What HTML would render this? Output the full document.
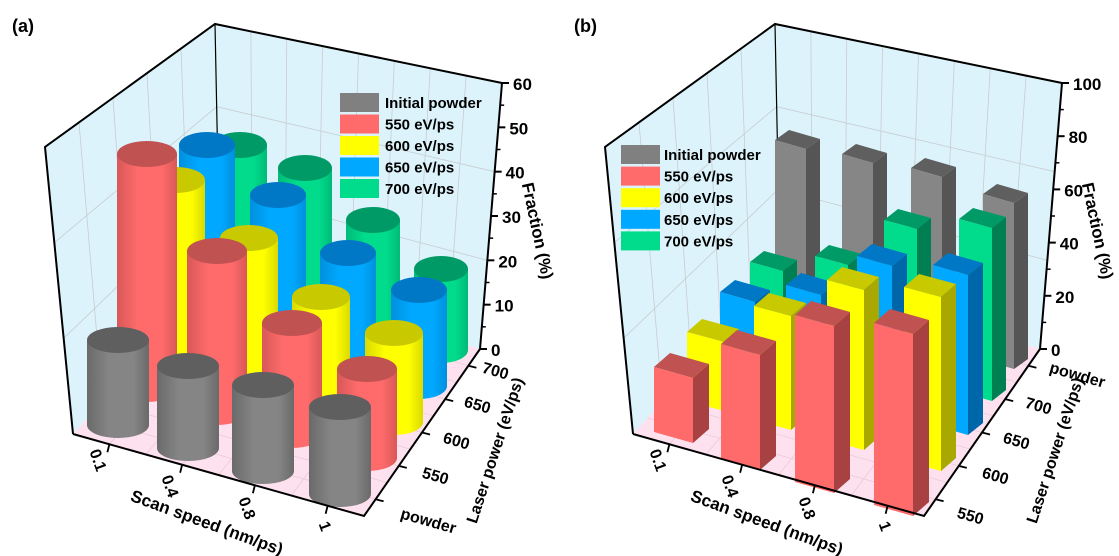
<!DOCTYPE html>
<html><head><meta charset="utf-8"><style>
html,body{margin:0;padding:0;background:#fff;}
svg{display:block;font-family:"Liberation Sans",Arial,sans-serif;font-weight:bold;}
</style></head><body>
<svg id="s" width="1119" height="556" viewBox="0 0 1119 556" xmlns="http://www.w3.org/2000/svg">
<defs></defs>
<text x="12" y="32" font-size="18">(a)</text>
<text x="574" y="32" font-size="18">(b)</text>
</svg>
<script>
const NS="http://www.w3.org/2000/svg";
const svg=document.getElementById('s');const defs=svg.querySelector('defs');
function el(tag,attrs,p3,p4){let parent=svg,text;
 if(typeof p3==='string')text=p3;else if(p3)parent=p3;
 if(typeof p4==='string')text=p4;else if(p4)parent=p4;
 const e=document.createElementNS(NS,tag);for(const k in attrs)e.setAttribute(k,attrs[k]);if(text!==undefined)e.textContent=text;parent.appendChild(e);return e;}
function pts(a){return a.map(p=>p[0].toFixed(1)+','+p[1].toFixed(1)).join(' ');}
function lerp(a,b,t){return [a[0]+(b[0]-a[0])*t,a[1]+(b[1]-a[1])*t];}
const COL={
 gray:{s:'#858585',t:'#5f5f5f',d:'#555555',l:'#6a6a6a'},
 red:{s:'#ff6b6b',t:'#c05252',d:'#a84242',l:'#d85858'},
 yel:{s:'#ffff00',t:'#c9c900',d:'#a8a800',l:'#dada00'},
 blue:{s:'#00a8ff',t:'#0078c6',d:'#0066aa',l:'#0090dd'},
 grn:{s:'#00dc8c',t:'#009a66',d:'#008052',l:'#00bb77'}};
for(const k in COL){const g=el('linearGradient',{id:'g'+k,x1:0,x2:1,y1:0,y2:0},defs);
 [[0,COL[k].l],[0.35,COL[k].s],[0.75,COL[k].s],[1,COL[k].l]].forEach(s=>el('stop',{offset:s[0],'stop-color':s[1]},g));}
function frame(ox,zl){
 const L=[ox+73,434],F=[ox+364,516],R=[ox+480,349],B=[ox+220,272],LT=[ox+45,147],BT=[ox+215,24],RT=[ox+502,83];
 el('polygon',{points:pts([LT,BT,B,L]),fill:'#dcf3fb'});
 el('polygon',{points:pts([BT,RT,R,B]),fill:'#dcf3fb'});
 el('polygon',{points:pts([L,B,R,F]),fill:'#fde1ef'});
 const gs={stroke:'#c8ccd0','stroke-width':0.8,fill:'none'};
 for(let i=1;i<8;i++){const t=i/8;el('line',Object.assign({x1:lerp(BT,RT,t)[0],y1:lerp(BT,RT,t)[1],x2:lerp(B,R,t)[0],y2:lerp(B,R,t)[1]},gs));}
 for(let i=1;i<5;i++){const t=i/5;el('line',Object.assign({x1:lerp(LT,BT,t)[0],y1:lerp(LT,BT,t)[1],x2:lerp(L,B,t)[0],y2:lerp(L,B,t)[1]},gs));}
 for(let i=1;i<3;i++){const t=i/3;const a=lerp(LT,L,t),b=lerp(BT,B,t),c=lerp(RT,R,t);el('polyline',Object.assign({points:pts([a,b,c])},gs));}
 for(let i=1;i<8;i++){const t=i/8;el('line',{x1:lerp(L,F,t)[0],y1:lerp(L,F,t)[1],x2:lerp(B,R,t)[0],y2:lerp(B,R,t)[1],stroke:'#e8c8d8','stroke-width':0.7});}
 for(let i=1;i<10;i++){const t=i/10;el('line',{x1:lerp(L,B,t)[0],y1:lerp(L,B,t)[1],x2:lerp(F,R,t)[0],y2:lerp(F,R,t)[1],stroke:'#e8c8d8','stroke-width':0.7});}
 const bs={stroke:'#000','stroke-width':2,fill:'none'};
 el('polyline',Object.assign({points:pts([L,LT,BT,RT])},bs));
 el('line',{x1:BT[0],y1:BT[1],x2:B[0],y2:B[1],stroke:'#000','stroke-width':1.2});
 el('line',Object.assign({x1:R[0],y1:R[1],x2:RT[0],y2:RT[1]},bs));
 zl.forEach((lab,i)=>{const t=i/(zl.length-1);const p=lerp(R,RT,t);
  el('line',{x1:p[0],y1:p[1],x2:p[0]+7,y2:p[1],stroke:'#000','stroke-width':2});
  el('text',{x:p[0]+11,y:p[1]+7,'font-size':17},lab);
  if(i<zl.length-1){const q=lerp(R,RT,t+0.5/(zl.length-1));el('line',{x1:q[0],y1:q[1],x2:q[0]+4,y2:q[1],stroke:'#000','stroke-width':1.5});}
 });
 return {L,F,R,B};
}
function floorEdges(f){
 const bs={stroke:'#000','stroke-width':2,fill:'none'};
 el('polyline',Object.assign({points:pts([f.L,f.F,f.R])},bs));
 for(let i=0;i<=8;i++){const p=lerp(f.L,f.F,i/8);if(i%2)el('line',{x1:p[0],y1:p[1],x2:p[0]-2,y2:p[1]+8,stroke:'#000','stroke-width':1.8});}
 for(let i=0;i<=10;i++){const p=lerp(f.F,f.R,i/10);if(i%2)el('line',{x1:p[0],y1:p[1],x2:p[0]+8,y2:p[1]+2,stroke:'#000','stroke-width':1.8});}
}
function labels(ox,lp){
 [['0.1',93,462],['0.4',165,488],['0.8',242,510],['1',320,528]].forEach(a=>el('text',{x:0,y:0,'font-size':16,transform:`translate(${ox+a[1]},${a[2]}) rotate(70)`,'text-anchor':'middle'},a[0]));
 el('text',{x:0,y:0,'font-size':17,transform:`translate(${ox+205},${528}) rotate(20)`,'text-anchor':'middle'},'Scan speed (nm/ps)');
 lp.forEach(a=>el('text',{x:0,y:0,'font-size':16,transform:`translate(${ox+a[1]},${a[2]}) rotate(16)`,'text-anchor':'middle'},a[0]));
 el('text',{x:0,y:0,'font-size':16,transform:`translate(${ox+500},${452}) rotate(-72)`,'text-anchor':'middle'},'Laser power (eV/ps)');
 el('text',{x:0,y:0,'font-size':17,transform:`translate(${ox+532},${232}) rotate(78)`,'text-anchor':'middle'},'Fraction (%)');
}
function legend(x,y0,dy,tx){
 [['gray','Initial powder'],['red','550 eV/ps'],['yel','600 eV/ps'],['blue','650 eV/ps'],['grn','700 eV/ps']].forEach((a,i)=>{
  const y=y0+i*dy;el('rect',{x:x,y:y,width:39,height:19,fill:a[0]==='gray'?'#808080':COL[a[0]].s});
  el('text',{x:tx,y:y+15,'font-size':15},a[1]);});
}
// ---------- Panel a ----------
const fa=frame(0,['0','10','20','30','40','50','60']);
const cyl=[];
const A={gray:[[118,340,425],[188,366,448],[263,385,471],[340,407,494]],
 red:[[147,154,389],[217,251,412],[292,323,435],[367,369,458]],
 yel:[[176,180,353],[249,238,376],[321,297,399],[394,333,422]],
 blue:[[207,145,317],[278,195,340],[348,253,363],[419,290,386]],
 grn:[[240,145,281],[305,168,304],[373,220,327],[441,269,350]]};
const rxr={gray:31,red:30,yel:29,blue:28,grn:27};
for(const k in A)A[k].forEach(c=>cyl.push([k,...c]));
cyl.sort((a,b)=>a[3]-b[3]);
legend(340,93,21.5,385);
cyl.forEach(c=>{const [k,cx,ty,by]=c;const rx=rxr[k],ry=13;
 el('path',{d:`M${cx-rx},${ty} L${cx-rx},${by} A${rx},${ry} 0 0 0 ${cx+rx},${by} L${cx+rx},${ty} Z`,fill:`url(#g${k})`});
 el('ellipse',{cx:cx,cy:ty,rx:rx,ry:ry,fill:COL[k].t});});
floorEdges(fa);
labels(0,[['700',494,376],['650',476,410],['600',455,446],['550',434,481],['powder',427,526]]);
// ---------- Panel b ----------
const OX=560;
const fb=frame(OX,['0','20','40','60','80','100']);
legend(OX+61,145,21.6,OX+104);
const Bx=[
 ['gray',[31,9],[14,-10],[[215,140,318],[282,154,338],[351,168,355],[423,194,360]]],
 ['grn',[33,9],[14,-11],[[190,262,345],[255,256,365],[324,220,385],[399,219,392]]],
 ['blue',[35,10],[15,-12],[[160,292,372],[226,285,392],[297,256,412],[373,265,425]]],
 ['yel',[37,10],[15,-13],[[127,332,401],[194,306,420],[267,280,440],[344,287,461]]],
 ['red',[39,11],[16,-14],[[94,367,432],[161,344,459],[235,315,482],[314,323,505]]]];
const boxes=[];
Bx.forEach(r=>r[3].forEach(b=>boxes.push([r[0],r[1],r[2],OX+b[0],b[1],b[2]])));
boxes.sort((a,b)=>a[5]-b[5]);
boxes.forEach(b=>{const [k,w,d,x,t,bt]=b;
 const ftl=[x,t],ftr=[x+w[0],t+w[1]],fbr=[x+w[0],bt+w[1]],fbl=[x,bt];
 const btl=[x+d[0],t+d[1]],btr=[ftr[0]+d[0],ftr[1]+d[1]],bbr=[fbr[0]+d[0],fbr[1]+d[1]];
 el('polygon',{points:pts([ftr,btr,bbr,fbr]),fill:COL[k].d});
 el('polygon',{points:pts([ftl,btl,btr,ftr]),fill:COL[k].t});
 el('polygon',{points:pts([ftl,ftr,fbr,fbl]),fill:k==='gray'?'#868686':COL[k].s});});
floorEdges(fb);
labels(OX,[['powder',516,380],['700',477,411],['650',455,446],['600',434,481],['550',409,521]]);
</script>
</body></html>
